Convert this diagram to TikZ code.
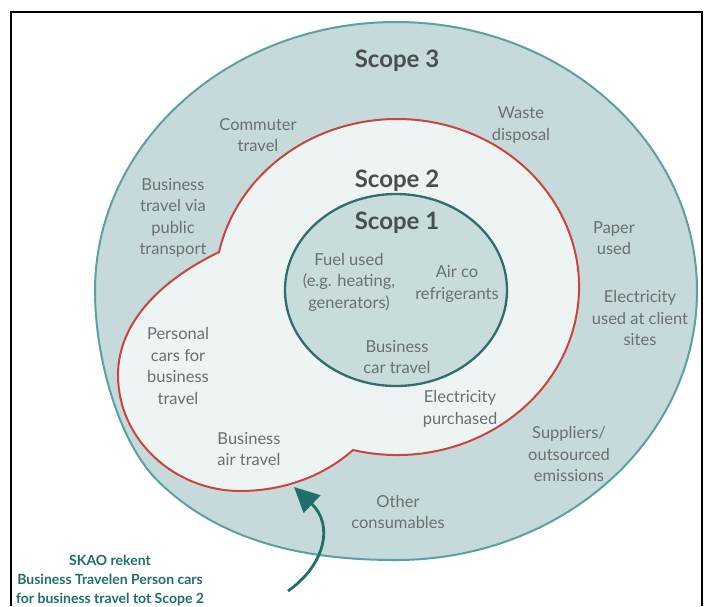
\documentclass[tikz,border=0pt]{standalone}
\usepackage{fontspec}
\setmainfont{Lato}
\usetikzlibrary{arrows.meta}
\definecolor{outerfill}{HTML}{C6DADB}
\definecolor{outerline}{HTML}{5AA2A2}
\definecolor{midfill}{HTML}{EEF3F4}
\definecolor{redline}{HTML}{C9463D}
\definecolor{innerfill}{HTML}{C8DCDC}
\definecolor{innerline}{HTML}{2F6E6E}
\definecolor{labelgray}{HTML}{6B6F70}
\definecolor{titlegray}{HTML}{4A4E50}
\definecolor{noteteal}{HTML}{1F6F6B}
\begin{document}
\begin{tikzpicture}[x=1pt,y=1pt,
 lbl/.style={font=\fontsize{16.5}{21.5}\selectfont, text=labelgray, align=center, inner sep=0pt},
 ttl/.style={font=\fontsize{24}{26}\selectfont\bfseries, text=titlegray, inner sep=0pt},
 note/.style={font=\fontsize{14}{19}\selectfont\bfseries, text=noteteal, align=center, inner sep=0pt}]
\useasboundingbox (0,0) rectangle (704,-606);
\fill[white] (0,0) rectangle (704,-606);
\draw[line width=2.4pt] (11,-606) -- (11,-12) -- (702,-12) -- (702,-606);
% scope 3
\draw[fill=outerfill, draw=outerline, line width=2pt]
  (95,-291) arc[start angle=180, end angle=-90, x radius=301, y radius=269]
  .. controls (320,-560) and (225,-548) .. (157,-480)
  .. controls (120,-443) and (95,-360) .. (95,-291) -- cycle;
% scope 2
\draw[fill=midfill, draw=redline, line width=2pt, line join=miter]
  (353,-450) arc[start angle=-104, end angle=168, x radius=182, y radius=168]
  .. controls (165,-278) and (118,-320) .. (118,-375)
  .. controls (118,-440) and (175,-491) .. (240,-491)
  .. controls (285,-491) and (325,-475) .. (353,-450) -- cycle;
% scope 1
\draw[fill=innerfill, draw=innerline, line width=2.3pt] (396,-290) ellipse[x radius=111, y radius=96];
% titles
\node[ttl] (s3) at (397,-61) {Scope 3};
\node[ttl] (s2) at (397,-181) {Scope 2};
\node[ttl] (s1) at (397,-223) {Scope 1};
% labels
\node[lbl] (commuter) at (258,-135) {Commuter\\travel};
\node[lbl] (waste) at (521,-125) {Waste\\disposal};
\node[lbl] (public) at (173,-218) {Business\\travel via\\public\\transport};
\node[lbl] (paper) at (614,-238) {Paper\\used};
\node[lbl] (fuel) at (349,-282) {Fuel used\\(e.g. heating,\\generators)};
\node[lbl] (airco) at (457,-284) {Air co\\refrigerants};
\node[lbl] (elclient) at (640,-318) {Electricity\\used at client\\sites};
\node[lbl] (personal) at (178,-366) {Personal\\cars for\\business\\travel};
\node[lbl] (car) at (397,-357) {Business\\car travel};
\node[lbl] (elpur) at (460,-409) {Electricity\\purchased};
\node[lbl] (suppl) at (569,-454) {Suppliers/\\outsourced\\emissions};
\node[lbl] (air) at (249,-449) {Business\\air travel};
\node[lbl] (other) at (398,-512) {Other\\consumables};
% note
\node[note] (note) at (110,-580) {SKAO rekent\\Business Travelen Person cars\\for business travel tot Scope 2};
\coordinate (arrowtail) at (288,-591);
\coordinate (arrowtip) at (294,-487);
\draw[-{Triangle[length=25pt,width=24pt]}, line width=2.8pt, draw=noteteal]
  (arrowtail) .. controls (325,-565) and (334,-525) .. (arrowtip);
\end{tikzpicture}
\end{document}
